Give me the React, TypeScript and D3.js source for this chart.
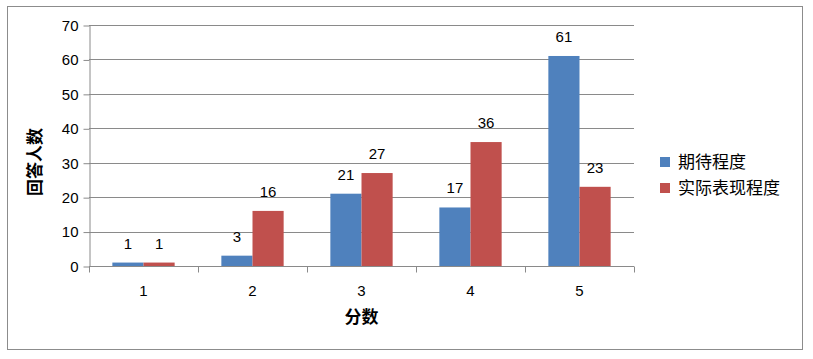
import React, { useEffect, useRef } from 'react';
import * as d3 from 'd3';

// score categories and the two series
const categories = ['1', '2', '3', '4', '5'];
const seriesNames = ['期待程度', '实际表现程度'];
const expected = [1, 3, 21, 17, 61];
const actual = [1, 16, 27, 36, 23];
const yTicks = [0, 10, 20, 30, 40, 50, 60, 70];

const colors = ['#4F81BD', '#C0504D'];
const FONT = '"Liberation Sans", "Noto Sans CJK SC", sans-serif';

const W = 813;
const H = 359;
const margin = { left: 89, right: 179, top: 25, bottom: 93 };

export default function App() {
  const svgRef = useRef<SVGSVGElement>(null);

  useEffect(() => {
    if (!svgRef.current) return;
    const svg = d3.select(svgRef.current);
    svg.selectAll('*').remove();

    const x0 = margin.left;
    const x1 = W - margin.right;
    const yTop = margin.top;
    const yBot = H - margin.bottom;

    // outer chart border
    svg.append('rect')
      .attr('x', 7.5).attr('y', 6.5)
      .attr('width', 795).attr('height', 343)
      .attr('fill', '#fff')
      .attr('stroke', '#8c8c8c')
      .attr('stroke-width', 1);

    const x = d3.scaleBand<string>().domain(categories).range([x0, x1]);
    const inner = d3.scaleBand<string>()
      .domain(seriesNames)
      .range([0, x.bandwidth()])
      .paddingOuter(0.75)
      .paddingInner(0);
    const y = d3.scaleLinear().domain([0, 70]).range([yBot, yTop]);

    // gridlines
    svg.append('g')
      .selectAll('line')
      .data(yTicks.filter(t => t > 0))
      .join('line')
      .attr('x1', x0).attr('x2', x1)
      .attr('y1', d => Math.round(y(d)) + 0.5)
      .attr('y2', d => Math.round(y(d)) + 0.5)
      .attr('stroke', '#8a8a8a')
      .attr('stroke-width', 1);

    // y axis
    const yAxis = svg.append('g')
      .attr('transform', `translate(${x0 + 0.5},0.5)`)
      .call(d3.axisLeft(y).tickValues(yTicks).tickSize(6).tickPadding(5).tickSizeOuter(0));
    yAxis.select('.domain').attr('stroke', '#8a8a8a');
    yAxis.selectAll('line').attr('stroke', '#8a8a8a');
    yAxis.selectAll('text')
      .attr('font-family', FONT)
      .attr('font-size', 15)
      .attr('fill', '#000');

    // bars
    const data = categories.map((c, i) => ({ cat: c, vals: [expected[i], actual[i]] }));
    const groups = svg.append('g')
      .selectAll('g')
      .data(data)
      .join('g')
      .attr('transform', d => `translate(${x(d.cat)},0)`);

    groups.selectAll('rect')
      .data(d => d.vals.map((v, j) => ({ name: seriesNames[j], v, j })))
      .join('rect')
      .attr('x', d => inner(d.name)!)
      .attr('width', inner.bandwidth())
      .attr('y', d => y(d.v))
      .attr('height', d => y(0) - y(d.v))
      .attr('fill', d => colors[d.j]);

    groups.selectAll('text')
      .data(d => d.vals.map((v, j) => ({ name: seriesNames[j], v, j })))
      .join('text')
      .attr('x', d => inner(d.name)! + inner.bandwidth() / 2)
      .attr('y', d => y(d.v) - 14)
      .attr('text-anchor', 'middle')
      .attr('font-family', FONT)
      .attr('font-size', 15)
      .attr('fill', '#000')
      .text(d => d.v);

    // x axis
    const xAxis = svg.append('g')
      .attr('transform', `translate(0,${Math.round(yBot) + 0.5})`);
    xAxis.append('line')
      .attr('x1', x0).attr('x2', x1)
      .attr('stroke', '#8a8a8a');
    xAxis.selectAll('line.tick')
      .data(d3.range(categories.length + 1))
      .join('line')
      .attr('class', 'tick')
      .attr('x1', i => Math.round(x0 + i * x.bandwidth()) + 0.5)
      .attr('x2', i => Math.round(x0 + i * x.bandwidth()) + 0.5)
      .attr('y1', 0).attr('y2', 6)
      .attr('stroke', '#8a8a8a');
    xAxis.selectAll('text')
      .data(categories)
      .join('text')
      .attr('x', d => x(d)! + x.bandwidth() / 2)
      .attr('y', 29)
      .attr('text-anchor', 'middle')
      .attr('font-family', FONT)
      .attr('font-size', 15)
      .attr('fill', '#000')
      .text(d => d);

    // axis titles
    svg.append('text')
      .attr('x', (x0 + x1) / 2)
      .attr('y', 323)
      .attr('text-anchor', 'middle')
      .attr('font-family', FONT)
      .attr('font-size', 17)
      .attr('font-weight', 'bold')
      .text('分数');

    svg.append('text')
      .attr('transform', 'translate(41,162) rotate(-90)')
      .attr('text-anchor', 'middle')
      .attr('font-family', FONT)
      .attr('font-size', 17)
      .attr('font-weight', 'bold')
      .text('回答人数');

    // legend
    const legend = svg.append('g').attr('transform', 'translate(660,155)');
    seriesNames.forEach((name, i) => {
      legend.append('rect')
        .attr('x', 0).attr('y', i * 26 + 2)
        .attr('width', 10).attr('height', 10)
        .attr('fill', colors[i]);
      legend.append('text')
        .attr('x', 18).attr('y', i * 26 + 13)
        .attr('font-family', FONT)
        .attr('font-size', 17)
        .attr('fill', '#000')
        .text(name);
    });
  }, []);

  return (
    <svg
      ref={svgRef}
      width={W}
      height={H}
      style={{ display: 'block', position: 'absolute', left: 0, top: 0 }}
    />
  );
}
